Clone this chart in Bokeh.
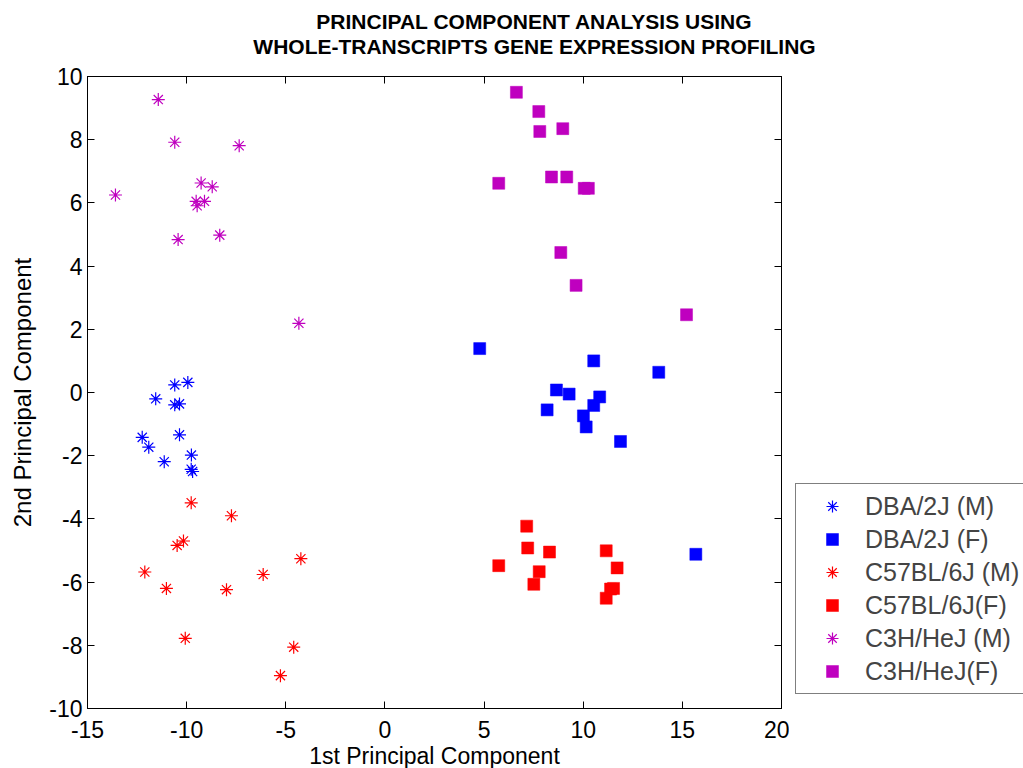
from bokeh.plotting import figure
from bokeh.layouts import row, column
from bokeh.models import (LinearAxis, Legend, LegendItem, FixedTicker, Range1d, Label)
from bokeh.embed import file_html
from bokeh.resources import INLINE

title_lines = ["PRINCIPAL COMPONENT ANALYSIS USING",
               "WHOLE-TRANSCRIPTS GENE EXPRESSION PROFILING"]
x_label = "1st Principal Component"
y_label = "2nd Principal Component"
x_ticks = [-15, -10, -5, 0, 5, 10, 15, 20]
y_ticks = [-10, -8, -6, -4, -2, 0, 2, 4, 6, 8, 10]

series_labels = ["DBA/2J (M)", "DBA/2J (F)", "C57BL/6J (M)", "C57BL/6J(F)",
                 "C3H/HeJ (M)", "C3H/HeJ(F)"]
series_colors = ["#0000ff", "#0000ff", "#ff0000", "#ff0000", "#bf00bf", "#bf00bf"]
series_markers = ["asterisk", "square", "asterisk", "square", "asterisk", "square"]

dba_m_x = [-10.60, -9.94, -11.56, -10.60, -10.36, -10.36, -12.24, -11.91, -11.13, -9.76, -9.77, -9.70]
dba_m_y = [0.24, 0.32, -0.20, -0.39, -0.36, -1.34, -1.42, -1.73, -2.19, -1.98, -2.43, -2.50]

dba_f_x = [4.78, 10.53, 13.81, 8.65, 9.29, 10.83, 10.53, 8.18, 10.01, 10.15, 11.88, 15.68]
dba_f_y = [1.39, 1.00, 0.64, 0.08, -0.05, -0.14, -0.41, -0.55, -0.74, -1.09, -1.55, -5.12]

c57_m_x = [-9.77, -7.74, -10.16, -10.48, -4.24, -12.11, -6.14, -11.02, -7.99, -10.07, -4.60, -5.27]
c57_m_y = [-3.49, -3.90, -4.70, -4.84, -5.26, -5.68, -5.76, -6.20, -6.24, -7.78, -8.06, -8.96]

c57_f_x = [11.38, 7.15, 7.20, 8.30, 5.74, 7.78, 7.51, 11.16, 11.71, 11.53, 11.16]
c57_f_y = [-6.22, -4.23, -4.92, -5.05, -5.48, -5.67, -6.07, -5.01, -5.55, -6.20, -6.51]

c3h_m_x = [-11.43, -10.60, -7.35, -13.59, -9.27, -8.71, -9.52, -9.10, -9.47, -10.43, -8.33, -4.34]
c3h_m_y = [9.27, 7.92, 7.81, 6.25, 6.63, 6.51, 6.05, 6.05, 5.91, 4.84, 4.98, 2.19]

c3h_f_x = [10.26, 6.63, 7.76, 7.81, 8.97, 5.74, 8.40, 9.17, 10.05, 8.87, 9.64, 15.21]
c3h_f_y = [6.46, 9.50, 8.89, 8.26, 8.35, 6.62, 6.82, 6.82, 6.46, 4.43, 3.39, 2.46]

series_x = [dba_m_x, dba_f_x, c57_m_x, c57_f_x, c3h_m_x, c3h_f_x]
series_y = [dba_m_y, dba_f_y, c57_m_y, c57_f_y, c3h_m_y, c3h_f_y]

FONT = "Liberation Sans"
TOTAL_W = 1023
MAIN_W = 789


def bare_figure(w, h):
    f = figure(width=w, height=h, x_range=Range1d(0, 1), y_range=Range1d(0, 1),
               output_backend="svg", toolbar_location=None,
               min_border=0, x_axis_location=None, y_axis_location=None)
    f.xgrid.visible = False
    f.ygrid.visible = False
    f.outline_line_color = None
    f.background_fill_color = "white"
    f.border_fill_color = "white"
    return f


# ---------------- title strip ----------------
title_fig = bare_figure(TOTAL_W, 60)
for txt, ty in zip(title_lines, [39, 14]):
    title_fig.add_layout(Label(x=534, y=ty, x_units="screen", y_units="screen", text=txt,
                               text_align="center", text_baseline="middle",
                               text_font=FONT, text_font_size="21px",
                               text_font_style="bold", text_color="black"))

# ---------------- main scatter plot ----------------
p = figure(frame_width=694, frame_height=632,
           x_range=Range1d(-15, 20), y_range=Range1d(-10, 10),
           output_backend="svg", toolbar_location=None,
           min_border_left=87, min_border_top=16, min_border_right=8,
           min_border_bottom=40, x_axis_location=None, y_axis_location=None)
p.xgrid.visible = False
p.ygrid.visible = False
p.outline_line_color = "black"
p.outline_line_width = 1
p.background_fill_color = "white"
p.border_fill_color = "white"


def style_axis(ax, labels=True):
    ax.axis_line_color = "black"
    ax.major_tick_line_color = "black"
    ax.major_tick_in = 7
    ax.major_tick_out = 0
    ax.minor_tick_line_color = None
    ax.major_label_text_font = FONT
    if labels:
        ax.major_label_text_font_size = "23px"
        ax.major_label_text_color = "black"
        ax.major_label_standoff = 5
    else:
        ax.major_label_text_font_size = "0px"
        ax.major_label_text_color = None
        ax.major_label_standoff = 0


xb = LinearAxis(ticker=FixedTicker(ticks=x_ticks), axis_label=x_label,
                major_label_overrides={t: str(t) for t in x_ticks})
style_axis(xb)
xb.major_label_standoff = 12
xb.axis_label_text_font = FONT
xb.axis_label_text_font_size = "23px"
xb.axis_label_text_font_style = "normal"
xb.axis_label_text_color = "black"
xb.axis_label_standoff = 2
p.add_layout(xb, "below")

yl = LinearAxis(ticker=FixedTicker(ticks=y_ticks), axis_label=y_label,
                major_label_overrides={t: str(t) for t in y_ticks})
style_axis(yl)
yl.axis_label_text_font = FONT
yl.axis_label_text_font_size = "24px"
yl.axis_label_text_font_style = "normal"
yl.axis_label_text_color = "black"
yl.axis_label_standoff = 10
p.add_layout(yl, "left")

xa = LinearAxis(ticker=FixedTicker(ticks=x_ticks))
style_axis(xa, labels=False)
p.add_layout(xa, "above")
yr = LinearAxis(ticker=FixedTicker(ticks=y_ticks))
style_axis(yr, labels=False)
p.add_layout(yr, "right")

for sx, sy, col, mk in zip(series_x, series_y, series_colors, series_markers):
    if mk == "square":
        p.scatter(sx, sy, marker="square", size=12, fill_color=col, line_color=col,
                  line_width=0.5)
    else:
        p.scatter(sx, sy, marker="asterisk", size=13, line_color=col, line_width=1.2)

# ---------------- legend strip ----------------
leg_fig = bare_figure(TOTAL_W - MAIN_W, 700)
items = []
nan = float("nan")
for lab, col, mk in zip(series_labels, series_colors, series_markers):
    if mk == "square":
        r = leg_fig.scatter([nan], [nan], marker="square", size=12, fill_color=col,
                            line_color=col, line_width=0.5)
    else:
        r = leg_fig.scatter([nan], [nan], marker="asterisk", size=12, line_color=col,
                            line_width=1.2)
    items.append(LegendItem(label=lab, renderers=[r]))

legend = Legend(items=items, location=(6, 3))
legend.border_line_color = "black"
legend.border_line_width = 1
legend.background_fill_color = "white"
legend.background_fill_alpha = 1
legend.label_text_font = FONT
legend.label_text_font_size = "25px"
legend.glyph_width = 58
legend.glyph_height = 30
legend.label_height = 30
legend.spacing = 3
legend.padding = 7
legend.label_standoff = 4
legend.margin = 0
leg_fig.add_layout(legend)

layout = column(title_fig, row(p, leg_fig))

open("out.html", "w").write(file_html(layout, INLINE))
